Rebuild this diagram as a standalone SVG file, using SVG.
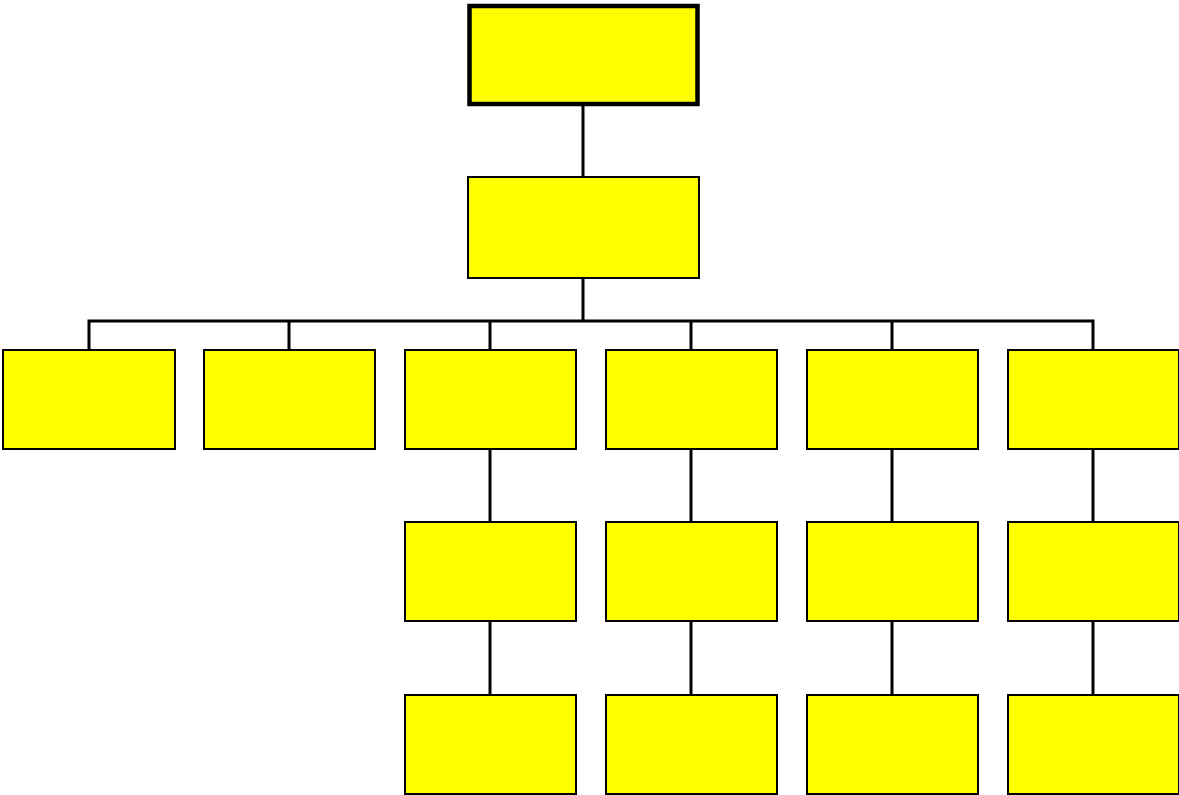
<svg xmlns="http://www.w3.org/2000/svg" width="1179" height="795" viewBox="0 0 1179 795">
<style>
.box{fill:#ffff00;stroke:#000;stroke-width:2}
.top{fill:#ffff00;stroke:#000;stroke-width:4.5}
.con{fill:none;stroke:#000;stroke-width:3}
</style>
<rect width="1179" height="795" fill="#fff"/>
<g id="connectors">
<line class="con" x1="583" y1="104" x2="583" y2="177"/>
<line class="con" x1="583" y1="277" x2="583" y2="321"/>
<polyline class="con" points="89,350 89,321 1093,321 1093,350"/>
<line class="con" x1="289" y1="321" x2="289" y2="350"/>
<line class="con" x1="490" y1="321" x2="490" y2="350"/>
<line class="con" x1="691" y1="321" x2="691" y2="350"/>
<line class="con" x1="892" y1="321" x2="892" y2="350"/>
<line class="con" x1="490" y1="449" x2="490" y2="695"/>
<line class="con" x1="691" y1="449" x2="691" y2="695"/>
<line class="con" x1="892" y1="449" x2="892" y2="695"/>
<line class="con" x1="1093" y1="449" x2="1093" y2="695"/>
</g>
<g id="n0"><rect class="top" x="469.5" y="6" width="228" height="98"/></g>
<g id="n1"><rect class="box" x="468" y="177" width="231" height="101"/></g>
<g id="n2"><rect class="box" x="3" y="350" width="172" height="99"/></g>
<g id="n3"><rect class="box" x="204" y="350" width="171" height="99"/></g>
<g id="n4"><rect class="box" x="405" y="350" width="171" height="99"/></g>
<g id="n5"><rect class="box" x="606" y="350" width="171" height="99"/></g>
<g id="n6"><rect class="box" x="807" y="350" width="171" height="99"/></g>
<g id="n7"><rect class="box" x="1008" y="350" width="171" height="99"/></g>
<g id="n8"><rect class="box" x="405" y="522" width="171" height="99"/></g>
<g id="n9"><rect class="box" x="606" y="522" width="171" height="99"/></g>
<g id="n10"><rect class="box" x="807" y="522" width="171" height="99"/></g>
<g id="n11"><rect class="box" x="1008" y="522" width="171" height="99"/></g>
<g id="n12"><rect class="box" x="405" y="695" width="171" height="99"/></g>
<g id="n13"><rect class="box" x="606" y="695" width="171" height="99"/></g>
<g id="n14"><rect class="box" x="807" y="695" width="171" height="99"/></g>
<g id="n15"><rect class="box" x="1008" y="695" width="171" height="99"/></g>
</svg>
